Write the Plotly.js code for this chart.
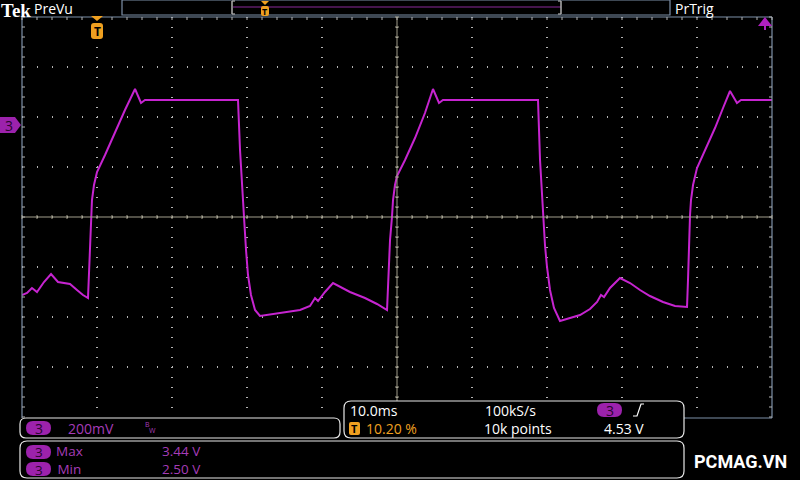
<!DOCTYPE html>
<html>
<head>
<meta charset="utf-8">
<script src="https://cdn.plot.ly/plotly-3.0.1.min.js"></script>
<style>
html,body{margin:0;padding:0;background:#000;}
#chart{width:800px;height:480px;}
</style>
</head>
<body>
<div id="chart"></div>
<script>
// Channel 3 waveform: time (ms from left edge of screen, 10 ms/div) and voltage (V)
const timeMs = [0, 0.67, 1.33, 2.0, 2.93, 3.87, 4.8, 5.6, 6.4, 7.33, 8.13, 8.8,
  8.93, 9.07, 9.2, 9.33, 9.6, 10.0, 11.07, 12.4, 13.73, 15.07, 15.87, 16.4, 22.4, 28.8,
  29.07, 29.33, 29.6, 29.87, 30.13, 30.53, 31.07, 31.73, 34.4, 37.07, 38.4, 39.07, 39.47, 40.4, 41.47, 42.4, 43.73, 45.73, 47.33, 48.67,
  48.8, 48.93, 49.07, 49.33, 49.47, 49.73, 50.0, 51.07, 52.4, 53.73, 54.8, 55.6, 56.13, 62.4, 68.8,
  69.07, 69.47, 69.73, 70.0, 70.4, 70.93, 71.73, 73.07, 74.4, 75.73, 76.67, 77.2, 77.6, 78.4, 79.73, 81.07, 82.4, 83.73, 85.47, 87.07, 88.67,
  88.8, 88.93, 89.07, 89.2, 89.47, 90.0, 91.07, 92.4, 93.47, 94.4, 95.33, 95.87, 100];
const volts = [2.616, 2.624, 2.644, 2.628, 2.668, 2.700, 2.668, 2.664, 2.660, 2.636, 2.616, 2.604,
  2.716, 2.836, 2.936, 2.996, 3.056, 3.108, 3.176, 3.268, 3.356, 3.440, 3.384, 3.396, 3.396, 3.396,
  3.196, 3.036, 2.928, 2.796, 2.696, 2.616, 2.556, 2.532, 2.544, 2.556, 2.572, 2.604, 2.592, 2.628, 2.664, 2.648, 2.628, 2.604, 2.580, 2.556,
  2.636, 2.756, 2.836, 2.928, 2.996, 3.056, 3.092, 3.156, 3.244, 3.344, 3.440, 3.384, 3.396, 3.396, 3.396,
  3.156, 2.928, 2.816, 2.728, 2.636, 2.564, 2.512, 2.524, 2.536, 2.560, 2.588, 2.616, 2.608, 2.644, 2.684, 2.664, 2.636, 2.612, 2.588, 2.572, 2.568,
  2.676, 2.836, 2.936, 2.996, 3.056, 3.124, 3.196, 3.284, 3.364, 3.432, 3.384, 3.396, 3.396];

// Readout texts
const chanLabel = "3";
const voltsPerDiv = "200mV";
const timePerDiv = "10.0ms";
const sampleRate = "100kS/s";
const recordLen = "10k points";
const trigPos = "10.20 %";
const trigLevel = "4.53 V";
const measNames = ["Max", "Min"];
const measVals = ["3.44 V", "2.50 V"];

// ---- geometry helpers (pixel -> paper) ----
const L = 22, R = 772, T = 17, B = 417;
const X = p => (p - L) / (R - L);
const Y = p => (B - p) / (B - T);
const f = v => v.toFixed(5);

const shapes = [];
const ann = [];

function line(x0, y0, x1, y1, color, w) {
  shapes.push({type: 'line', xref: 'paper', yref: 'paper', x0: X(x0), y0: Y(y0), x1: X(x1), y1: Y(y1),
    line: {color: color, width: w || 1}, layer: 'above'});
}
function rr(x0, y0, x1, y1, r, fill, stroke, w) {
  const p = `M ${f(X(x0 + r))},${f(Y(y0))} L ${f(X(x1 - r))},${f(Y(y0))} Q ${f(X(x1))},${f(Y(y0))} ${f(X(x1))},${f(Y(y0 + r))} ` +
    `L ${f(X(x1))},${f(Y(y1 - r))} Q ${f(X(x1))},${f(Y(y1))} ${f(X(x1 - r))},${f(Y(y1))} ` +
    `L ${f(X(x0 + r))},${f(Y(y1))} Q ${f(X(x0))},${f(Y(y1))} ${f(X(x0))},${f(Y(y1 - r))} ` +
    `L ${f(X(x0))},${f(Y(y0 + r))} Q ${f(X(x0))},${f(Y(y0))} ${f(X(x0 + r))},${f(Y(y0))} Z`;
  shapes.push({type: 'path', xref: 'paper', yref: 'paper', path: p, fillcolor: fill || 'rgba(0,0,0,0)',
    line: {color: stroke || 'rgba(0,0,0,0)', width: stroke ? (w || 1) : 0}, layer: 'above'});
}
function poly(pts, fill) {
  const p = 'M ' + pts.map(q => f(X(q[0])) + ',' + f(Y(q[1]))).join(' L ') + ' Z';
  shapes.push({type: 'path', xref: 'paper', yref: 'paper', path: p, fillcolor: fill, line: {width: 0}, layer: 'above'});
}
function text(t, x, y, color, size, anchor, family, extra) {
  ann.push(Object.assign({text: t, xref: 'paper', yref: 'paper', x: X(x), y: Y(y), showarrow: false,
    xanchor: anchor || 'left', yanchor: 'middle', borderpad: 0,
    font: {color: color, size: size || 13, family: family || 'Open Sans, DejaVu Sans, sans-serif'}}, extra || {}));
}

const FRAME = '#7d90a8';
const CENTER = '#a29e8c';
const TICK = '#b4b4b4';
const MAG = '#a63cb8';
const PILL = '#9c22ac';
const ORANGE = '#f0a020';

// Frame border
line(L, T, R, T, FRAME, 1.2);
line(L, T, L, B + 1, FRAME, 1.2);
line(R, T, R, B + 1, FRAME, 1.2);
line(684, B + 1, R, B + 1, FRAME, 1.2);

// Center cross-hair with minor ticks
line(L, 217, R, 217, CENTER, 1);
line(397, T, 397, B, CENTER, 1);
for (let x = L; x <= R; x += 15) {
  line(x, 215, x, 219, CENTER, 1);
  line(x, T, x, T + 3, TICK, 1);
}
for (let y = T; y <= B; y += 10) {
  line(395, y, 399, y, CENTER, 1);
  line(L, y, L + 3, y, TICK, 1);
  line(R - 3, y, R, y, TICK, 1);
}

// ---- top status bar ----
text('<b>Tek</b>', 0, 10.5, '#ffffff', 19, 'left', 'Liberation Serif, serif');
text('PreVu', 33, 9, '#ffffff', 14);
text('PrTrig', 674, 9, '#ffffff', 14);
// record view box
shapes.push({type: 'rect', xref: 'paper', yref: 'paper', x0: X(122), y0: Y(0), x1: X(670), y1: Y(15),
  line: {color: FRAME, width: 1.2}, fillcolor: 'rgba(0,0,0,0)', layer: 'above'});
line(233, 7, 561, 7, '#8a2a9a', 1.2);
line(232, 1, 232, 14, '#b0b0b0', 1.5);
line(561, 1, 561, 14, '#b0b0b0', 1.5);
line(232, 1, 235, 1, '#b0b0b0', 1.2);
line(232, 14, 235, 14, '#b0b0b0', 1.2);
line(558, 1, 561, 1, '#b0b0b0', 1.2);
line(558, 14, 561, 14, '#b0b0b0', 1.2);
// small trigger marker in record bar
poly([[261, 1], [269, 1], [265, 5]], ORANGE);
rr(261, 6, 269, 16, 2, ORANGE);
text('<b>T</b>', 265, 11, '#000000', 9, 'center');

// Trigger position marker on graticule
poly([[91, 16], [103, 16], [97, 21]], ORANGE);
rr(91, 23, 103, 39, 3, ORANGE);
text('<b>T</b>', 97, 31, '#000000', 12, 'center');

// Channel 3 ground marker
poly([[0, 117], [15, 117], [21, 125], [15, 133], [0, 133]], PILL);
text('3', 9, 125.5, '#2a0530', 14, 'center');

// Trigger level arrow (off-screen above)
poly([[758, 26], [765, 17], [772, 26]], '#b020c0');
line(765, 25, 765, 30, '#b020c0', 2);

// ---- bottom readout panels ----
rr(20, 418, 340, 438, 6, '#000000', '#e8e8e8', 1.2);
rr(344, 401, 684, 438, 7, '#000000', '#e8e8e8', 1.2);
rr(20, 441, 684, 478, 7, '#000000', '#e8e8e8', 1.2);

// panel 1
rr(26, 421, 51, 435, 7, PILL);
text(chanLabel, 38.5, 428.5, '#2a0530', 14, 'center');
text(voltsPerDiv, 67, 428, MAG, 14);
text('B', 144, 424, MAG, 7);
text('W', 148, 430, MAG, 7);

// panel 2
text(timePerDiv, 349, 410, '#ffffff', 14);
text(sampleRate, 484, 410, '#ffffff', 14);
rr(597, 403, 622, 417, 7, PILL);
text(chanLabel, 609.5, 410.5, '#2a0530', 14, 'center');
shapes.push({type: 'path', xref: 'paper', yref: 'paper',
  path: `M ${f(X(633))},${f(Y(416))} L ${f(X(637))},${f(Y(416))} L ${f(X(641))},${f(Y(404))} L ${f(X(644))},${f(Y(404))}`,
  line: {color: '#ffffff', width: 1.2}, layer: 'above'});
rr(349, 422, 360, 435, 2, ORANGE);
text('<b>T</b>', 354.5, 428.5, '#000000', 11, 'center');
text(trigPos, 365, 428, ORANGE, 14);
text(recordLen, 483, 428, '#ffffff', 14);
text(trigLevel, 603, 428, '#ffffff', 14);

// panel 3 (measurements) - two rows per annotation
[452, 469].forEach(yy => rr(26, yy - 7, 51, yy + 7, 7, PILL));
text(chanLabel + '<br>' + chanLabel, 38.5, 461, '#2a0530', 13.5, 'center');
text(measNames.join('<br>'), 55, 460.5, MAG, 13.5);
text(measVals.join('<br>'), 161, 460.5, MAG, 13.5);

// watermark
text('<b>PCMAG.VN</b>', 693, 461, '#ffffff', 18, 'left', 'Roboto, Open Sans, sans-serif');

const trace = {
  x: timeMs, y: volts, type: 'scatter', mode: 'lines',
  line: {color: '#c624d0', width: 2},
  hoverinfo: 'skip'
};

const layout = {
  width: 800, height: 480,
  margin: {l: L, r: 800 - R, t: T, b: 480 - B},
  paper_bgcolor: '#000000', plot_bgcolor: '#000000',
  showlegend: false,
  xaxis: {range: [0, 100], dtick: 10, tick0: 0, showgrid: true, gridcolor: TICK, griddash: '1px,9px',
    gridwidth: 1.2, zeroline: false, showticklabels: false, ticks: '', showline: false, fixedrange: true},
  yaxis: {range: [2.128, 3.728], dtick: 0.2, tick0: 2.128, showgrid: true, gridcolor: TICK, griddash: '1px,14px',
    gridwidth: 1.2, zeroline: false, showticklabels: false, ticks: '', showline: false, fixedrange: true},
  shapes: shapes,
  annotations: ann,
  hovermode: false
};

Plotly.newPlot('chart', [trace], layout, {displayModeBar: false, staticPlot: true});
</script>
</body>
</html>
